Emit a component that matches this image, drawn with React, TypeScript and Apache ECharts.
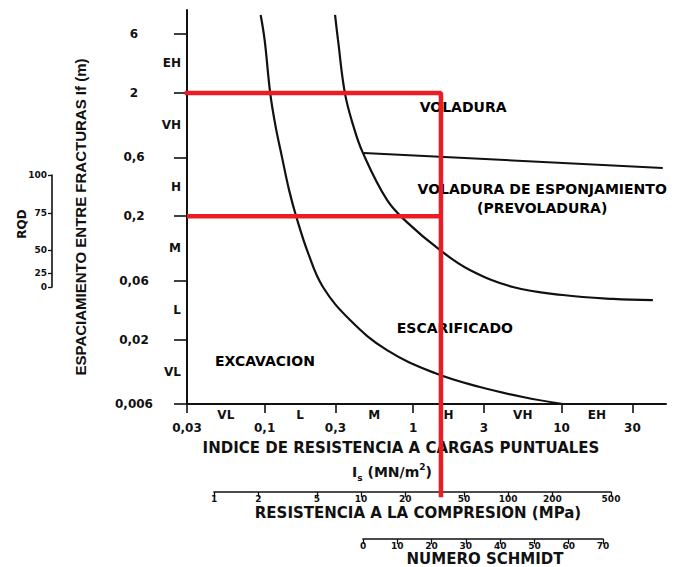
import React, { useEffect, useRef } from "react";
import * as echarts from "echarts";

// ---- Fracture spacing axis, If (m) ----
const spacingTicks = [0.006, 0.02, 0.06, 0.2, 0.6, 2, 6];
const spacingTickLabels = ["0,006", "0,02", "0,06", "0,2", "0,6", "2", "6"];
const spacingClasses = ["VL", "L", "M", "H", "VH", "EH"];
const spacingMin = 0.006;
const spacingMax = 9.4;

// ---- Point load index axis, Is (MN/m2) ----
const strengthTicks = [0.03, 0.1, 0.3, 1, 3, 10, 30];
const strengthTickLabels = ["0,03", "0,1", "0,3", "1", "3", "10", "30"];
const strengthClasses = ["VL", "L", "M", "H", "VH", "EH"];
const strengthMin = 0.03;
const strengthMax = 50.5;

// ---- Uniaxial compressive strength (MPa) ----
const ucsTicks = [1, 2, 5, 10, 20, 50, 100, 200, 500];
// ---- Schmidt hammer number ----
const schmidtTicks = [0, 10, 20, 30, 40, 50, 60, 70];
// ---- RQD and its equivalent fracture spacing (m) ----
const rqdTicks = [0, 25, 50, 75, 100];
const rqdSpacing = [0.053, 0.069, 0.106, 0.212, 0.43];

// ---- Boundary: excavation / ripping ----
const digRipIs = [0.094, 0.1, 0.109, 0.118, 0.131, 0.146, 0.163, 0.196, 0.247, 0.376, 0.667, 1.4, 2.82, 5.49, 10.2];
const digRipIf = [8.57, 5.37, 2.0, 1.1, 0.6, 0.327, 0.2, 0.101, 0.0533, 0.0288, 0.0164, 0.0107, 0.00824, 0.00684, 0.006];

// ---- Boundary: ripping / blasting ----
const ripBlastIs = [0.298, 0.312, 0.347, 0.394, 0.459, 0.667, 0.908, 1.52, 2.41, 4.7, 10.2, 22.2, 41.2];
const ripBlastIf = [8.57, 5.37, 2.0, 1.1, 0.652, 0.271, 0.179, 0.106, 0.0733, 0.0533, 0.0459, 0.0427, 0.0418];

// ---- Boundary: blasting / pre-blasting ----
const blastSplitIs = [0.465, 48];
const blastSplitIf = [0.652, 0.492];

// ---- Reading drawn in red ----
const readingIs = 1.54;
const readingIf = [0.2, 2];

// ---- Region labels ----
const regionNames = ["VOLADURA", "VOLADURA DE ESPONJAMIENTO\n(PREVOLADURA)", "ESCARIFICADO", "EXCAVACION"];
const regionIs = [2.17, 7.4, 1.91, 0.1005];
const regionIf = [1.54, 0.276, 0.0248, 0.0134];

const L = (v: number) => Math.log10(v);
const idxOf = (vals: number[], v: number) => vals.findIndex((t) => Math.abs(t - v) < 1e-6);
const mids = (vals: number[]) => vals.slice(1).map((v, i) => (L(vals[i]) + L(v)) / 2);

const INK = "#111";
const RED = "#ec1c24";
const FONT = "DejaVu Sans";

const labelBase = { fontFamily: FONT, fontWeight: "bold" as const, color: INK };

export default function App() {
  const ref = useRef<HTMLDivElement>(null);
  useEffect(() => {
    if (!ref.current) return;
    const chart = echarts.init(ref.current, null, { renderer: "svg" });

    const spacingLog = spacingTicks.map(L);
    const spacingMid = mids(spacingTicks);
    const strengthLog = strengthTicks.map(L);
    const strengthMid = mids(strengthTicks);
    const ucsLog = ucsTicks.map(L);
    const rqdLog = rqdSpacing.map(L);

    const pairs = (xs: number[], ys: number[]) => xs.map((x, i) => [L(x), L(ys[i])]);
    const readingData = (bottom: number) => [
      [L(strengthMin), L(readingIf[1])],
      [L(readingIs), L(readingIf[1])],
      [L(readingIs), bottom],
    ];

    const option: any = {
      animation: false,
      backgroundColor: "#fff",
      grid: [
        { left: 187, right: 20, top: 10, bottom: 163 },
        { left: 52, top: 175, width: 1, height: 112 },
        { left: 214, top: 491, width: 397, height: 1 },
        { left: 363, top: 538, width: 240, height: 1 },
      ],
      xAxis: [
        {
          type: "value", gridIndex: 0, position: "bottom",
          min: L(strengthMin), max: L(strengthMax),
          axisLine: { show: true, onZero: false, lineStyle: { color: INK, width: 2 } },
          axisTick: { show: true, customValues: strengthLog, length: 9, lineStyle: { color: INK, width: 1.6 } },
          axisLabel: {
            ...labelBase, fontSize: 12, margin: 18, customValues: strengthLog,
            formatter: (v: number) => strengthTickLabels[idxOf(strengthLog, v)] ?? "",
          },
          splitLine: { show: false },
        },
        {
          type: "value", gridIndex: 0, position: "bottom",
          min: L(strengthMin), max: L(strengthMax),
          axisLine: { show: false, onZero: false },
          axisTick: { show: false },
          axisLabel: {
            ...labelBase, fontSize: 12, margin: 5, customValues: strengthMid,
            formatter: (v: number) => strengthClasses[idxOf(strengthMid, v)] ?? "",
          },
          splitLine: { show: false },
        },
        {
          type: "value", gridIndex: 2, position: "bottom",
          min: 0, max: L(500),
          axisLine: { show: true, onZero: false, lineStyle: { color: INK, width: 1.6 } },
          axisTick: { show: true, customValues: ucsLog, length: 5, lineStyle: { color: INK, width: 1.3 } },
          axisLabel: {
            ...labelBase, fontSize: 9, margin: 2, customValues: ucsLog,
            formatter: (v: number) => String(ucsTicks[idxOf(ucsLog, v)] ?? ""),
          },
          splitLine: { show: false },
        },
        {
          type: "value", gridIndex: 3, position: "bottom",
          min: 0, max: 70,
          axisLine: { show: true, onZero: false, lineStyle: { color: INK, width: 1.6 } },
          axisTick: { show: true, customValues: schmidtTicks, length: 5, lineStyle: { color: INK, width: 1.3 } },
          axisLabel: {
            ...labelBase, fontSize: 9, margin: 2, customValues: schmidtTicks,
            formatter: (v: number) => String(v),
          },
          splitLine: { show: false },
        },
        { type: "value", gridIndex: 1, show: false, min: 0, max: 1 },
      ],
      yAxis: [
        {
          type: "value", gridIndex: 0, position: "left",
          min: L(spacingMin), max: L(spacingMax),
          axisLine: { show: true, onZero: false, lineStyle: { color: INK, width: 2 } },
          axisTick: { show: true, customValues: spacingLog, length: 13, lineStyle: { color: INK, width: 1.6 } },
          axisLabel: {
            ...labelBase, fontSize: 12, margin: 53, align: "center", customValues: spacingLog,
            formatter: (v: number) => spacingTickLabels[idxOf(spacingLog, v)] ?? "",
          },
          splitLine: { show: false },
        },
        {
          type: "value", gridIndex: 0, position: "left",
          min: L(spacingMin), max: L(spacingMax),
          axisLine: { show: false, onZero: false },
          axisTick: { show: false },
          axisLabel: {
            ...labelBase, fontSize: 12, margin: 6, align: "right", customValues: spacingMid,
            formatter: (v: number) => spacingClasses[idxOf(spacingMid, v)] ?? "",
          },
          splitLine: { show: false },
        },
        {
          type: "value", gridIndex: 1, position: "left",
          min: L(rqdSpacing[0]), max: L(rqdSpacing[rqdSpacing.length - 1]),
          axisLine: { show: true, onZero: false, lineStyle: { color: INK, width: 1.6 } },
          axisTick: { show: true, customValues: rqdLog, length: 4, lineStyle: { color: INK, width: 1.3 } },
          axisLabel: {
            ...labelBase, fontSize: 9, margin: 5, align: "right", customValues: rqdLog,
            formatter: (v: number) => String(rqdTicks[idxOf(rqdLog, v)] ?? ""),
          },
          splitLine: { show: false },
        },
        { type: "value", gridIndex: 2, show: false, min: 0, max: 1 },
        { type: "value", gridIndex: 3, show: false, min: 0, max: 1 },
      ],
      series: [
        {
          type: "line", xAxisIndex: 0, yAxisIndex: 0, data: pairs(digRipIs, digRipIf),
          smooth: 0.4, symbol: "none", silent: true, z: 3,
          lineStyle: { color: INK, width: 2.2 },
        },
        {
          type: "line", xAxisIndex: 0, yAxisIndex: 0, data: pairs(ripBlastIs, ripBlastIf),
          smooth: 0.4, symbol: "none", silent: true, z: 3,
          lineStyle: { color: INK, width: 2.2 },
        },
        {
          type: "line", xAxisIndex: 0, yAxisIndex: 0, data: pairs(blastSplitIs, blastSplitIf),
          symbol: "none", silent: true, z: 3,
          lineStyle: { color: INK, width: 2 },
        },
        {
          type: "scatter", xAxisIndex: 0, yAxisIndex: 0, symbolSize: 1, silent: true, z: 4,
          itemStyle: { color: "rgba(0,0,0,0)", opacity: 1 },
          data: regionNames.map((n, i) => ({ name: n, value: [L(regionIs[i]), L(regionIf[i])] })),
          label: {
            show: true, position: "inside", formatter: "{b}", ...labelBase, color: "#000",
            opacity: 1, textBorderWidth: 0,
            fontSize: 14, lineHeight: 19, align: "center", verticalAlign: "middle",
          },
          emphasis: { disabled: true },
        },
        {
          id: "reading", type: "line", xAxisIndex: 0, yAxisIndex: 0, clip: false,
          data: readingData(L(spacingMin)), symbol: "none", silent: true, z: 6,
          lineStyle: { color: RED, width: 4.5, cap: "square" },
        },
        {
          type: "line", xAxisIndex: 0, yAxisIndex: 0, clip: false,
          data: pairs([strengthMin, readingIs], [readingIf[0], readingIf[0]]),
          symbol: "none", silent: true, z: 6,
          lineStyle: { color: RED, width: 4.5 },
        },
      ],
      graphic: [
        {
          type: "text", x: 80, y: 217, rotation: Math.PI / 2, z: 1,
          style: {
            text: "ESPACIAMIENTO ENTRE FRACTURAS If (m)",
            font: 'bold 15px "Liberation Sans"', fill: INK,
            align: "center", verticalAlign: "middle", textAlign: "center", textVerticalAlign: "middle",
          },
        },
        {
          type: "text", x: 22, y: 224, rotation: Math.PI / 2, z: 1,
          style: {
            text: "RQD", font: `bold 12px "${FONT}"`, fill: INK,
            align: "center", verticalAlign: "middle", textAlign: "center", textVerticalAlign: "middle",
          },
        },
        {
          type: "text", x: 401, y: 448, z: 1,
          style: {
            text: "INDICE DE RESISTENCIA A CARGAS PUNTUALES", font: `bold 15px "${FONT}"`, fill: INK,
            align: "center", verticalAlign: "middle", textAlign: "center", textVerticalAlign: "middle",
          },
        },
        {
          type: "text", x: 392, y: 472, z: 1,
          style: {
            text: "{b|I}{s|s}{b| (MN/m}{p|2}{b|)}", fill: INK,
            align: "center", verticalAlign: "middle", textAlign: "center", textVerticalAlign: "middle",
            rich: {
              b: { fontFamily: FONT, fontWeight: "bold", fontSize: 14, lineHeight: 20, fill: INK },
              s: { fontFamily: FONT, fontWeight: "bold", fontSize: 9, lineHeight: 20, verticalAlign: "bottom", fill: INK },
              p: { fontFamily: FONT, fontWeight: "bold", fontSize: 9, lineHeight: 20, verticalAlign: "top", fill: INK },
            },
          },
        },
        {
          type: "text", x: 418, y: 513, z: 1,
          style: {
            text: "RESISTENCIA A LA COMPRESION (MPa)", font: `bold 15px "${FONT}"`, fill: INK,
            align: "center", verticalAlign: "middle", textAlign: "center", textVerticalAlign: "middle",
          },
        },
        {
          type: "text", x: 485, y: 559, z: 1,
          style: {
            text: "NUMERO SCHMIDT", font: `bold 15px "${FONT}"`, fill: INK,
            align: "center", verticalAlign: "middle", textAlign: "center", textVerticalAlign: "middle",
          },
        },
      ],
    };

    chart.setOption(option);

    // extend the red reading line down to the compressive-strength scale
    try {
      const ucsPx = chart.convertToPixel({ gridIndex: 2 } as any, [0, 0]) as number[];
      const end = chart.convertFromPixel({ gridIndex: 0 } as any, [0, ucsPx[1] + 3]) as number[];
      if (end && isFinite(end[1])) {
        chart.setOption({ series: [{ id: "reading", data: readingData(end[1]) }] });
      }
    } catch (e) {
      /* keep default */
    }

    return () => chart.dispose();
  }, []);

  return (
    <div
      ref={ref}
      style={{ position: "fixed", left: 0, top: 0, width: 686, height: 567, background: "#fff" }}
    />
  );
}
